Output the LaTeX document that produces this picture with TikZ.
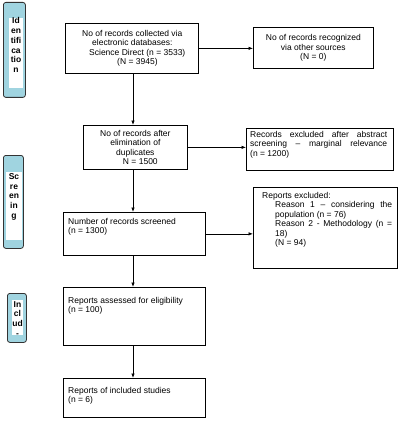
\documentclass[tikz,border=0pt]{standalone}
\usepackage{fontspec}
\setmainfont{Liberation Sans}
\usetikzlibrary{arrows.meta}
\definecolor{sideblue}{RGB}{160,212,224}
\begin{document}
\begin{tikzpicture}[x=1pt,y=-1pt,
  frame/.style={draw, line width=0.7pt, inner sep=0pt, anchor=north west},
  txt/.style={inner sep=0pt, anchor=north west, align=left, font=\fontsize{8.5}{9.5}\selectfont},
  ctxt/.style={inner sep=0pt, align=center, font=\fontsize{8.5}{9.5}\selectfont},
  arr/.style={-{Latex[length=4.5pt,width=3.5pt]}, line width=0.7pt},
  side/.style={draw=black!80, fill=sideblue, rounded corners=2.5pt, line width=0.8pt, anchor=north west, inner sep=0pt},
  sidein/.style={fill=white, anchor=north west, inner sep=0pt},
  sidetext/.style={inner sep=0pt, align=center, font=\fontsize{8.5}{9.9}\selectfont\bfseries}]
\useasboundingbox (0,0) rectangle (403,425);
\fill[white] (0,0) rectangle (403,425);

% side bars
\node[side, minimum width=22pt, minimum height=95pt] (s1) at (3,2) {};
\node[sidein, minimum width=14pt, minimum height=70pt] (s1w) at (9,18) {};
\node[sidetext, anchor=north] (s1t) at (16,17) {Id\\en\\tifi\\ca\\tio\\n};

\node[side, minimum width=20pt, minimum height=93pt] (s2) at (3,155) {};
\node[sidein, minimum width=16pt, minimum height=68pt] (s2w) at (6,172) {};
\node[sidetext, anchor=north] (s2t) at (14,173) {Sc\\re\\en\\in\\g};

\node[side, minimum width=19pt, minimum height=49pt] (s3) at (7,293) {};
\node[sidein, minimum width=11pt, minimum height=35pt] (s3w) at (12,300) {};
\node[sidetext, anchor=north] (s3t) at (17.5,301) {In\\cl\\ud\\-};

% boxes
\node[frame, minimum width=133pt, minimum height=50pt] (b1) at (65,23) {};
\node[txt] (t1) at (82,30) {No of records collected via\\
\hspace*{10pt}electronic databases:\\
\hspace*{7pt}Science Direct (n = 3533)\\
\hspace*{35pt}(N = 3945)};

\node[frame, minimum width=120pt, minimum height=41pt] (b2) at (253,27) {};
\node[ctxt] (t2) at (b2.center) {No of records recognized\\via other sources\\(N = 0)};

\node[frame, minimum width=104pt, minimum height=44pt] (b3) at (83,125) {};
\node[ctxt] (t3) at (b3.center) {No of records after\\elimination of\\duplicates\\\hspace*{10pt}N = 1500};

\node[frame, minimum width=147pt, minimum height=42pt] (b4) at (246,128) {};
\node[txt] (t4) at (250,131) {\makebox[137pt][s]{Records excluded after abstract}\\
\makebox[137pt][s]{screening – marginal relevance}\\
(n = 1200)};

\node[frame, minimum width=142pt, minimum height=43pt] (b5) at (63,212) {};
\node[txt] (t5) at (68,218) {Number of records screened\\(n = 1300)};

\node[frame, minimum width=144pt, minimum height=81pt] (b6) at (253,187) {};
\node[txt] (t6) at (262,192) {Reports excluded:\\
\hspace*{13pt}\makebox[117pt][s]{Reason 1 – considering the}\\
\hspace*{13pt}population (n = 76)\\
\hspace*{13pt}\makebox[117pt][s]{Reason 2 - Methodology (n =}\\
\hspace*{13pt}18)\\
\hspace*{13pt}(N = 94)};

\node[frame, minimum width=142pt, minimum height=58pt] (b7) at (63,287) {};
\node[txt] (t7) at (68,297) {Reports assessed for eligibility\\(n = 100)};

\node[frame, minimum width=142pt, minimum height=39pt] (b8) at (63,378) {};
\node[txt] (t8) at (68,387) {Reports of included studies\\(n = 6)};

% connectors
\coordinate (ax) at (133,0);
\draw[arr] (b1.south -| ax) -- (b3.north -| ax);
\draw[arr] (b3.south -| ax) -- (b5.north -| ax);
\draw[arr] (b5.south -| ax) -- (b7.north -| ax);
\draw[arr] (b7.south -| ax) -- (b8.north -| ax);
\draw[arr] (b1.east) -- (b1.east -| b2.west);
\draw[arr] (b3.east) -- (b3.east -| b4.west);
\draw[arr] (b5.east) -- (b5.east -| b6.west);
\end{tikzpicture}
\end{document}
